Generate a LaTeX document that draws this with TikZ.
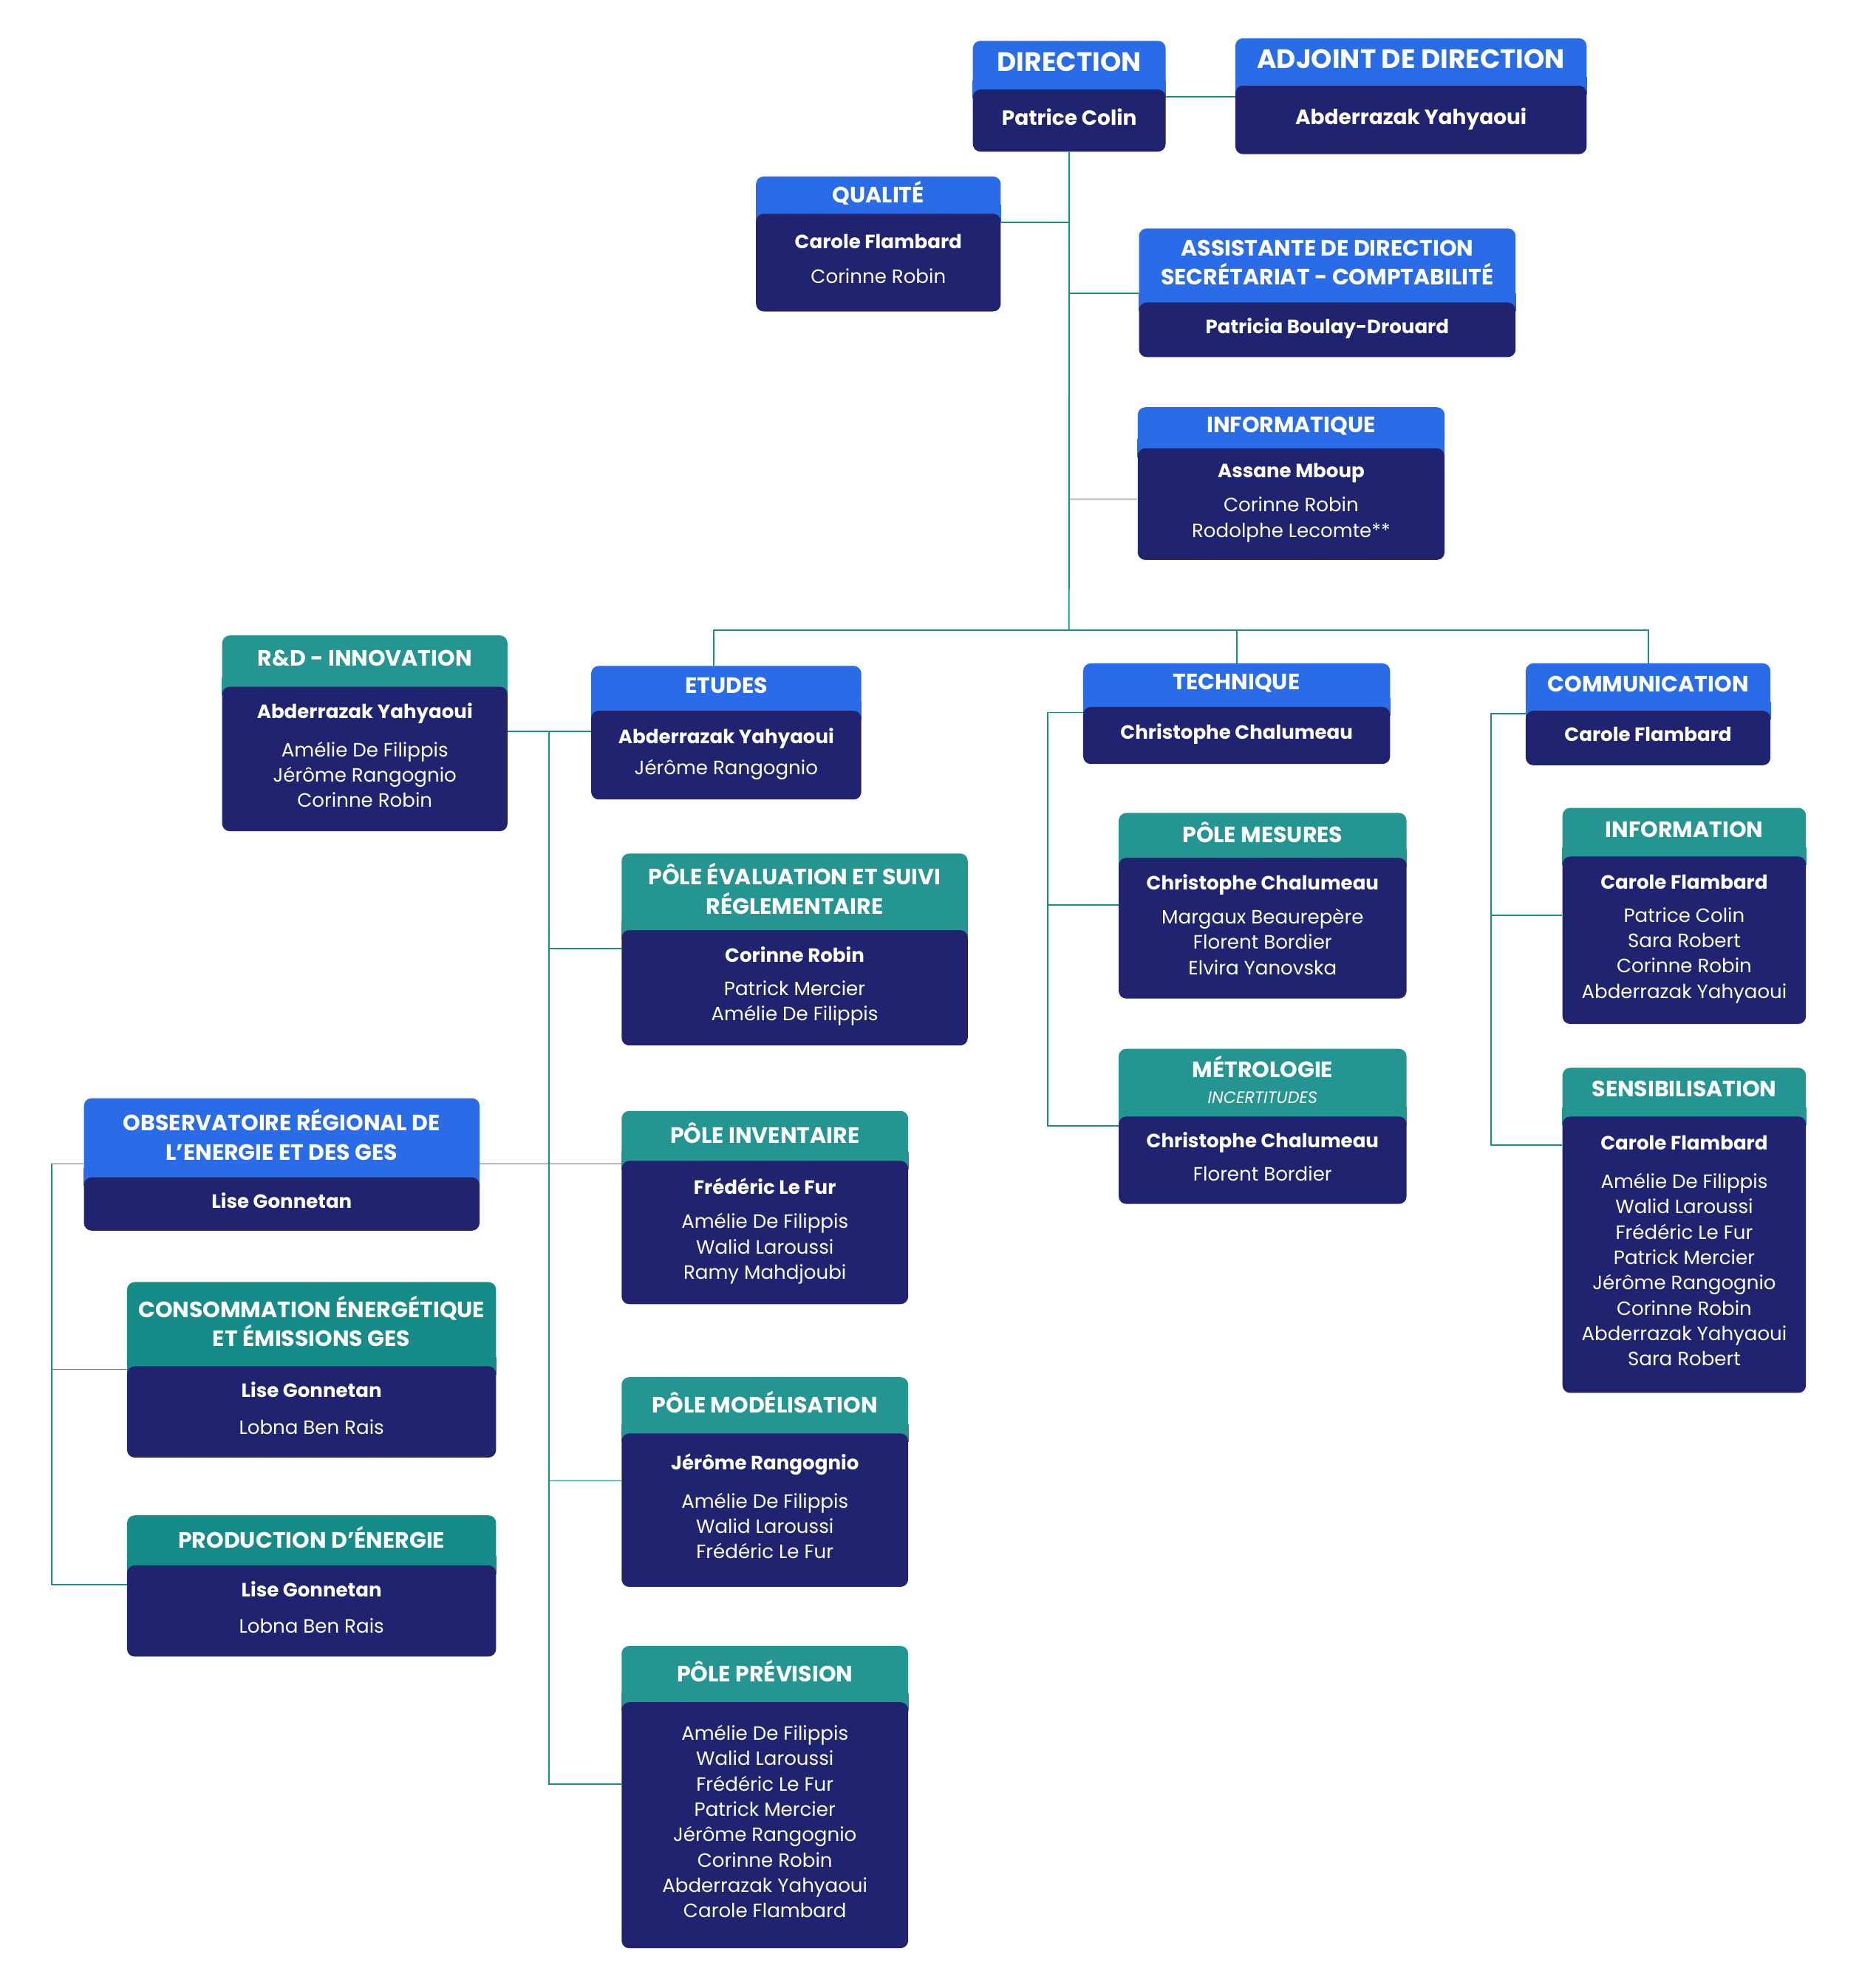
\documentclass[tikz,border=0pt]{standalone}
\usepackage{fontspec}
\setmainfont{Poppins}
\usetikzlibrary{positioning}
\definecolor{hdblue}{HTML}{2A6CE8}
\definecolor{hdteal}{HTML}{259592}
\definecolor{hdgreen}{HTML}{168C89}
\definecolor{navy}{HTML}{202370}
\definecolor{linkcol}{HTML}{1B8C8A}
\begin{document}
\begin{tikzpicture}[x=1pt, y=-1pt,
    head/.style={rounded corners=6pt, text=white, align=center, anchor=north west, inner sep=0pt,
      text depth=4.5pt, font=\bfseries\fontsize{17.5}{23}\selectfont},
    bluehead/.style={head, fill=hdblue},
    tealhead/.style={head, fill=hdteal},
    greenhead/.style={head, fill=hdgreen},
    bighead/.style={font=\bfseries\fontsize{21}{24}\selectfont},
    body/.style={rounded corners=6pt, fill=navy, text=white, align=center, anchor=north west, inner sep=0pt,
      text depth=6pt, font=\fontsize{15.2}{20}\selectfont},
    bigbody/.style={font=\fontsize{16.3}{20}\selectfont},
    link/.style={draw=linkcol, line width=1.1pt}]
    \useasboundingbox (0,0) rectangle (1466,1568);

    % headers
    \node[bluehead, bighead, minimum width=152, minimum height=38] (dirh) at (767,32) {DIRECTION};
    \node[bluehead, bighead, minimum width=277, minimum height=37] (adjh) at (974,30) {ADJOINT DE DIRECTION};
    \node[bluehead, minimum width=193, minimum height=29] (qualh) at (596,139) {QUALITÉ};
    \node[bluehead, minimum width=297, minimum height=58] (assh) at (898,180) {ASSISTANTE DE DIRECTION\\SECRÉTARIAT - COMPTABILITÉ};
    \node[bluehead, minimum width=242, minimum height=32] (infoh) at (897,321) {INFORMATIQUE};
    \node[tealhead, minimum width=225, minimum height=40] (rdh) at (175,501) {R\&D - INNOVATION};
    \node[bluehead, minimum width=213, minimum height=35] (etuh) at (466,525) {ETUDES};
    \node[bluehead, minimum width=242, minimum height=34] (techh) at (854,523) {TECHNIQUE};
    \node[bluehead, minimum width=193, minimum height=37] (comh) at (1203,523) {COMMUNICATION};
    \node[tealhead, minimum width=273, minimum height=60] (evalh) at (490,673) {PÔLE ÉVALUATION ET SUIVI\\RÉGLEMENTAIRE};
    \node[tealhead, minimum width=226, minimum height=39] (invh) at (490,876) {PÔLE INVENTAIRE};
    \node[tealhead, minimum width=226, minimum height=44] (modh) at (490,1086) {PÔLE MODÉLISATION};
    \node[tealhead, minimum width=226, minimum height=44] (prevh) at (490,1298) {PÔLE PRÉVISION};
    \node[bluehead, minimum width=312, minimum height=62] (obsh) at (66,866) {OBSERVATOIRE RÉGIONAL DE\\L’ENERGIE ET DES GES};
    \node[greenhead, minimum width=291, minimum height=66] (consoh) at (100,1011) {CONSOMMATION ÉNERGÉTIQUE\\ET ÉMISSIONS GES};
    \node[greenhead, minimum width=291, minimum height=39] (prodh) at (100,1195) {PRODUCTION D’ÉNERGIE};
    \node[tealhead, minimum width=227, minimum height=35] (mesh) at (882,641) {PÔLE MESURES};
    \node[tealhead, minimum width=227, minimum height=53] (metroh) at (882,827) {MÉTROLOGIE\\[-3pt]{\mdseries\itshape\fontsize{13}{16}\selectfont INCERTITUDES}};
    \node[tealhead, minimum width=192, minimum height=38] (infmh) at (1232,637) {INFORMATION};
    \node[tealhead, minimum width=192, minimum height=38] (sensh) at (1232,842) {SENSIBILISATION};

    % hide the lower corners of the headers
    \foreach \n/\c in {dirh/hdblue, adjh/hdblue, qualh/hdblue, assh/hdblue, infoh/hdblue, rdh/hdteal,
        etuh/hdblue, techh/hdblue, comh/hdblue, evalh/hdteal, invh/hdteal, modh/hdteal, prevh/hdteal,
        obsh/hdblue, consoh/hdgreen, prodh/hdgreen, mesh/hdteal, metroh/hdteal, infmh/hdteal, sensh/hdteal}
      \fill[\c] ([yshift=7pt]\n.south west) rectangle ([yshift=-7pt]\n.south east);

    % bodies
    \node[body, bigbody, minimum width=152, minimum height=49] (dir) at (dirh.south west) {\textbf{Patrice Colin}};
    \node[body, bigbody, minimum width=277, minimum height=54] (adj) at (adjh.south west) {\textbf{Abderrazak Yahyaoui}};
    \node[body, minimum width=193, minimum height=77] (qual) at (qualh.south west) {\textbf{Carole Flambard}\\[7pt]Corinne Robin};
    \node[body, minimum width=297, minimum height=43] (ass) at (assh.south west) {\textbf{Patricia Boulay-Drouard}};
    \node[body, minimum width=242, minimum height=88] (info) at (infoh.south west) {\textbf{Assane Mboup}\\[7pt]Corinne Robin\\Rodolphe Lecomte**};
    \node[body, minimum width=225, minimum height=114] (rd) at (rdh.south west) {\textbf{Abderrazak Yahyaoui}\\[10pt]Amélie De Filippis\\Jérôme Rangognio\\Corinne Robin};
    \node[body, minimum width=213, minimum height=70] (etu) at (etuh.south west) {\textbf{Abderrazak Yahyaoui}\\[5pt]Jérôme Rangognio};
    \node[body, minimum width=242, minimum height=45] (tech) at (techh.south west) {\textbf{Christophe Chalumeau}};
    \node[body, minimum width=193, minimum height=43] (com) at (comh.south west) {\textbf{Carole Flambard}};
    \node[body, minimum width=273, minimum height=91] (eval) at (evalh.south west) {\textbf{Corinne Robin}\\[6pt]Patrick Mercier\\Amélie De Filippis};
    \node[body, minimum width=226, minimum height=113] (inv) at (invh.south west) {\textbf{Frédéric Le Fur}\\[7pt]Amélie De Filippis\\Walid Laroussi\\Ramy Mahdjoubi};
    \node[body, minimum width=226, minimum height=121] (mod) at (modh.south west) {\textbf{Jérôme Rangognio}\\[10pt]Amélie De Filippis\\Walid Laroussi\\Frédéric Le Fur};
    \node[body, minimum width=226, minimum height=194] (prev) at (prevh.south west) {Amélie De Filippis\\Walid Laroussi\\Frédéric Le Fur\\Patrick Mercier\\Jérôme Rangognio\\Corinne Robin\\Abderrazak Yahyaoui\\Carole Flambard};
    \node[body, minimum width=312, minimum height=42] (obs) at (obsh.south west) {\textbf{Lise Gonnetan}};
    \node[body, minimum width=291, minimum height=72] (conso) at (consoh.south west) {\textbf{Lise Gonnetan}\\[9pt]Lobna Ben Rais};
    \node[body, minimum width=291, minimum height=72] (prod) at (prodh.south west) {\textbf{Lise Gonnetan}\\[9pt]Lobna Ben Rais};
    \node[body, minimum width=227, minimum height=111] (mes) at (mesh.south west) {\textbf{Christophe Chalumeau}\\[7pt]Margaux Beaurepère\\Florent Bordier\\Elvira Yanovska};
    \node[body, minimum width=227, minimum height=69] (metro) at (metroh.south west) {\textbf{Christophe Chalumeau}\\[6pt]Florent Bordier};
    \node[body, minimum width=192, minimum height=132] (infm) at (infmh.south west) {\textbf{Carole Flambard}\\[6pt]Patrice Colin\\Sara Robert\\Corinne Robin\\Abderrazak Yahyaoui};
    \node[body, minimum width=192, minimum height=218] (sens) at (sensh.south west) {\textbf{Carole Flambard}\\[10pt]Amélie De Filippis\\Walid Laroussi\\Frédéric Le Fur\\Patrick Mercier\\Jérôme Rangognio\\Corinne Robin\\Abderrazak Yahyaoui\\Sara Robert};

    % junctions
    \coordinate (bus) at (843,497);
    \coordinate (busl) at (563,497);
    \coordinate (j0) at (433,577);
    \coordinate (j1) at (433,748);
    \coordinate (j2) at (433,918);
    \coordinate (j3) at (433,1168);
    \coordinate (j4) at (433,1407);
    \coordinate (o0) at (41,918);
    \coordinate (o1) at (41,1080);
    \coordinate (o2) at (41,1250);
    \coordinate (t0) at (826,562);
    \coordinate (t1) at (826,714);
    \coordinate (t2) at (826,888);
    \coordinate (c0) at (1176,563);
    \coordinate (c1) at (1176,722);
    \coordinate (c2) at (1176,903);

    % links
    \draw[link] ([yshift=-6pt]dirh.south east) -- ([yshift=-6pt]dirh.south east -| adj.west);
    \draw[link] (dir.south) -- (bus);
    \draw[link] ([yshift=-7pt]qualh.south east) -- ([yshift=-7pt]qualh.south east -| bus);
    \draw[link] ([yshift=7pt]assh.south west) -- ([yshift=7pt]assh.south west -| bus);
    \draw[link] ([yshift=4pt]info.west) -- ([yshift=4pt]info.west -| bus);
    \draw[link] (busl |- etuh.north) -- (busl) -- (comh.north |- busl) -- (comh.north);
    \draw[link] (techh.north) -- (techh.north |- busl);

    \draw[link] (j0 -| rd.east) -- (j0 -| etu.west);
    \draw[link] (j0) -- (j4) -- (j4 -| prev.west);
    \draw[link] (j1) -- (j1 -| eval.west);
    \draw[link] (j2 -| obs.east) -- (j2 -| inv.west);
    \draw[link] (j3) -- (j3 -| mod.west);

    \draw[link] (o0 -| obs.west) -- (o0) -- (o2) -- (o2 -| prod.west);
    \draw[link] (o1) -- (o1 -| conso.west);

    \draw[link] (t0 -| tech.west) -- (t0) -- (t2) -- (t2 -| metro.west);
    \draw[link] (t1) -- (t1 -| mes.west);

    \draw[link] (c0 -| com.west) -- (c0) -- (c2) -- (c2 -| sens.west);
    \draw[link] (c1) -- (c1 -| infm.west);
\end{tikzpicture}
\end{document}
